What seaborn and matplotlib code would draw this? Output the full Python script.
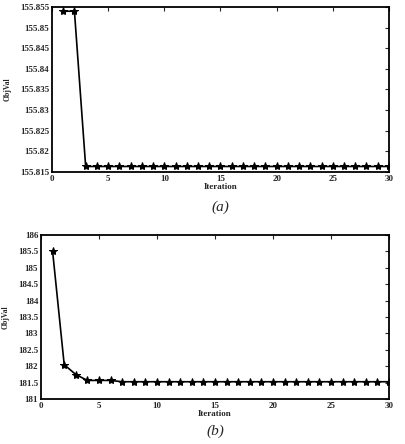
import numpy as np
import pandas as pd
import matplotlib
matplotlib.use('Agg')
import matplotlib.pyplot as plt
import seaborn as sns

iters = list(range(1, 31))
objval_a = [155.854, 155.854] + [155.8163] * 28
objval_b = [185.5, 182.05, 181.75, 181.57, 181.57, 181.57] + [181.53] * 24

yticks_a = [155.815, 155.82, 155.825, 155.83, 155.835, 155.84, 155.845, 155.85, 155.855]
yticks_b = [181, 181.5, 182, 182.5, 183, 183.5, 184, 184.5, 185, 185.5, 186]
xticks = [0, 5, 10, 15, 20, 25, 30]

sns.set_style('white')
plt.rcParams['font.family'] = ['Liberation Serif', 'DejaVu Serif']
plt.rcParams['font.weight'] = 'bold'

fig = plt.figure(figsize=(4.06, 4.44), dpi=100)
ax1 = fig.add_axes([0.128, 0.613, 0.830, 0.371])
ax2 = fig.add_axes([0.101, 0.101, 0.857, 0.370])

df_a = pd.DataFrame({'Iteration': iters, 'ObjVal': objval_a})
df_b = pd.DataFrame({'Iteration': iters, 'ObjVal': objval_b})

for ax, df, yt, ylim, lab, off in [(ax1, df_a, yticks_a, (155.815, 155.855), '(a)', -0.215),
                                    (ax2, df_b, yticks_b, (181, 186), '(b)', -0.195)]:
    sns.lineplot(data=df, x='Iteration', y='ObjVal', ax=ax, color='black',
                 linewidth=1.2, marker='*', markersize=6, markeredgecolor='black')
    ax.set_xlim(0, 30)
    ax.set_ylim(*ylim)
    ax.set_xticks(xticks)
    ax.set_yticks(yt)
    ax.set_yticklabels([f'{v:g}' for v in yt])
    ax.tick_params(direction='in', length=3, width=0.8, labelsize=6.5, pad=2,
                   top=True, right=True)
    for lbl in ax.get_xticklabels() + ax.get_yticklabels():
        lbl.set_fontweight('bold')
    for s in ax.spines.values():
        s.set_linewidth(1.3)
        s.set_color('black')
    ax.set_xlabel('Iteration', fontsize=6.5, fontweight='bold', labelpad=0)
    ax.set_ylabel('ObjVal', fontsize=5.5, fontweight='bold', labelpad=6)
    ax.text(0.5, off, lab, transform=ax.transAxes, ha='center', va='center',
            fontsize=11, fontstyle='italic', fontweight='normal')

fig.savefig('out.png', dpi=100)
